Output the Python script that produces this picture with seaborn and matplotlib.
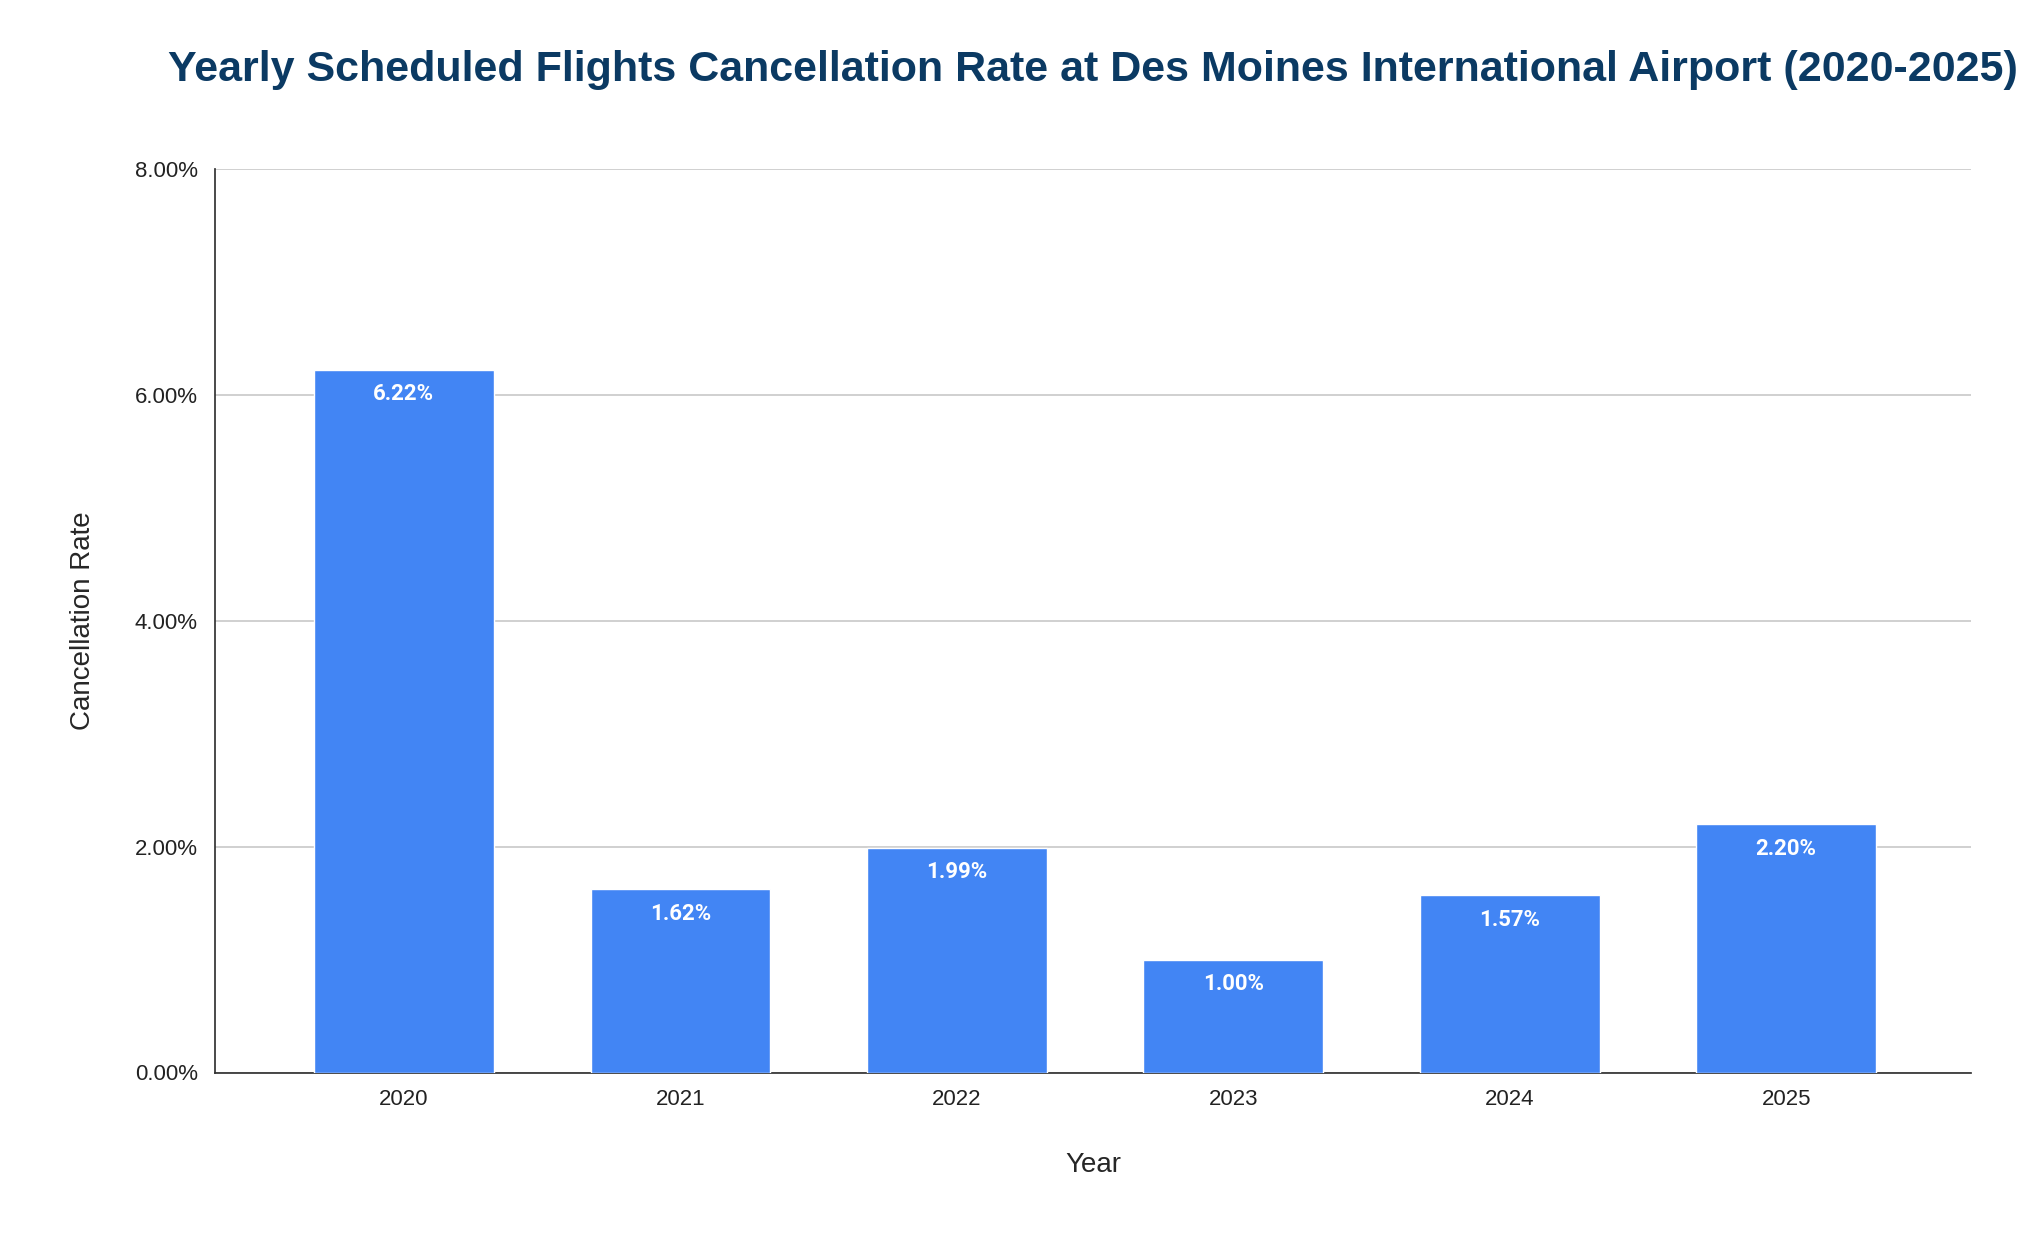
import matplotlib
matplotlib.use("Agg")
import matplotlib.pyplot as plt
import seaborn as sns
import pandas as pd
from matplotlib.ticker import FuncFormatter

years = ["2020", "2021", "2022", "2023", "2024", "2025"]
rates = [6.22, 1.62, 1.99, 1.00, 1.57, 2.20]

sns.set_theme(style="white")
plt.rcParams['font.family'] = ['Liberation Sans', 'DejaVu Sans']

df = pd.DataFrame({"Year": years, "Rate": rates})
fig = plt.figure(figsize=(20.24, 12.5), dpi=100)
ax = fig.add_axes([0.106, 0.142, 0.868, 0.723])
sns.barplot(data=df, x="Year", y="Rate", color="#4285f4", width=0.65, saturation=1, ax=ax, zorder=3)
ax.set_xlim(-0.685, 5.67)
ax.set_ylim(0, 8)
ax.set_yticks([0, 2, 4, 6, 8])
ax.yaxis.set_major_formatter(FuncFormatter(lambda v, p: f"{v:.2f}%"))
ax.grid(axis="y", color="#c8c8c8", linewidth=1.2, zorder=0)
for s in ["top", "right"]:
    ax.spines[s].set_visible(False)
ax.spines["left"].set_color("#333333")
ax.spines["bottom"].set_color("#333333")
ax.tick_params(axis="both", labelsize=16, colors="#222222", length=0, pad=12)
ax.set_xlabel("Year", fontsize=20, labelpad=30)
ax.set_ylabel("Cancellation Rate", fontsize=20, labelpad=28)
for i, v in enumerate(rates):
    ax.text(i, v - 0.12, f"{v:.2f}%", ha="center", va="top", color="white",
            fontsize=16, fontweight="bold", family=["Roboto", "DejaVu Sans"], zorder=4)
fig.suptitle("Yearly Scheduled Flights Cancellation Rate at Des Moines International Airport (2020-2025)",
             x=0.54, y=0.96, fontsize=31, fontweight="bold", color="#0b3a63")
fig.savefig("out.png", dpi=100)
